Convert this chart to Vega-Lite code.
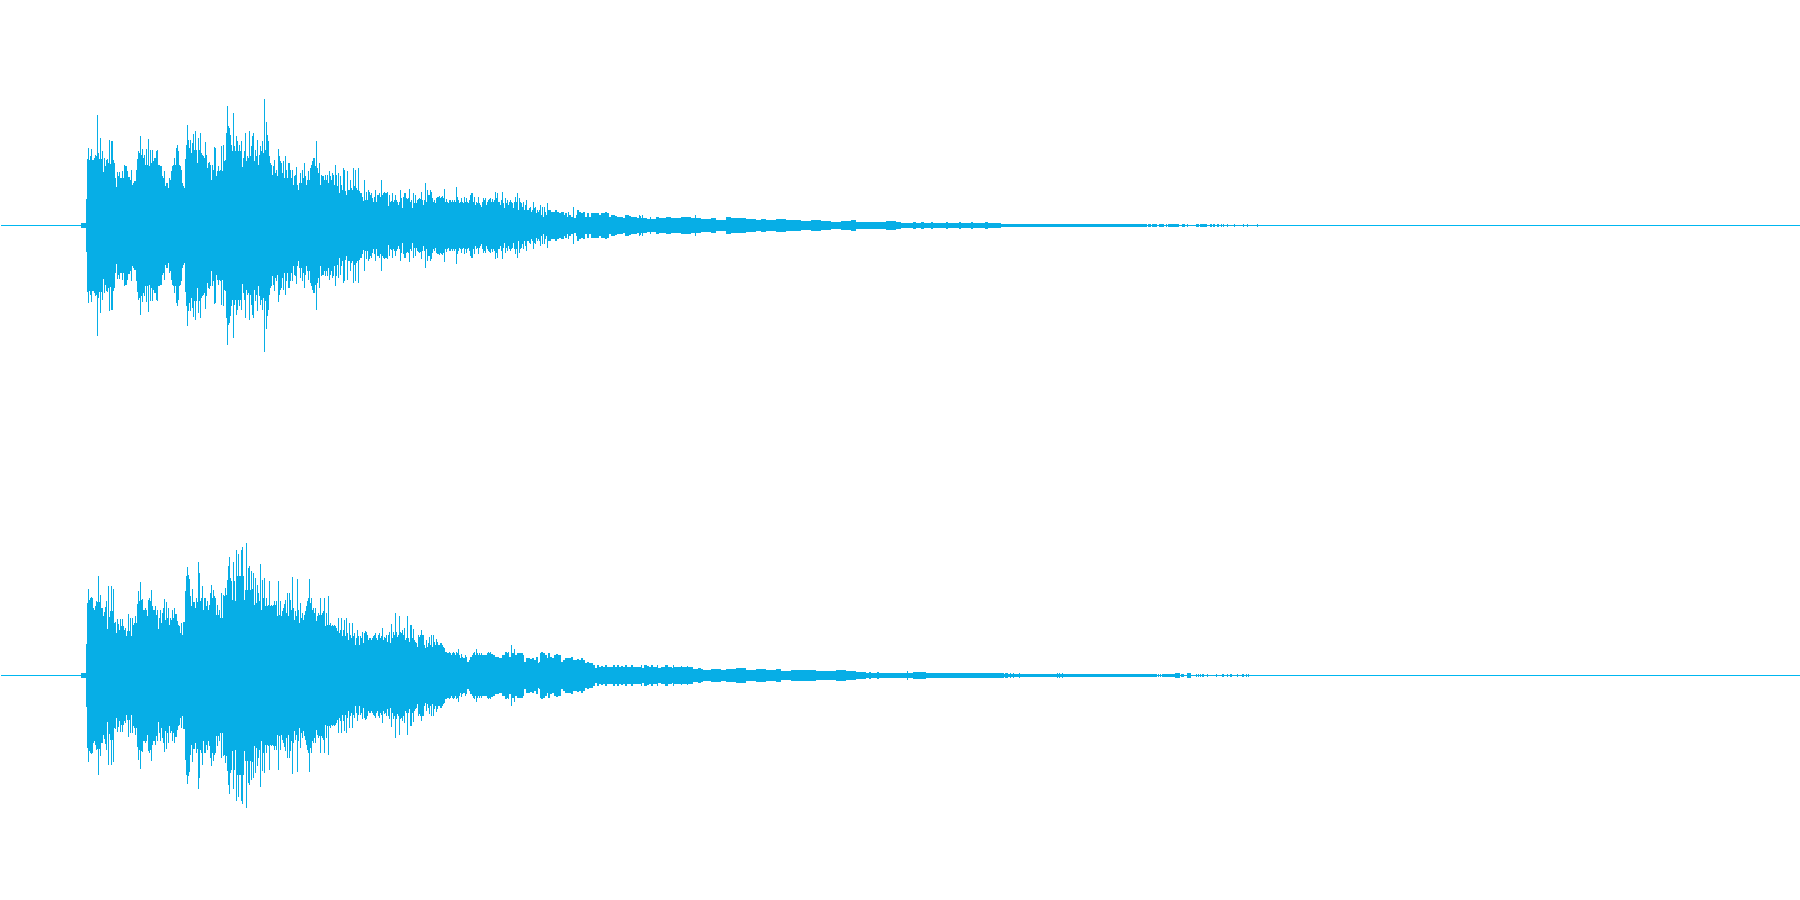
{"padding":0,"background":"white","config":{"view":{"stroke":null},"concat":{"spacing":0}},
"datasets":{"ch1":[{"x":80,"t":2,"b":-3},{"x":85,"t":26,"b":-27},{"x":86,"t":66,"b":-67},{"x":87,"t":77,"b":-78},{"x":88,"t":65,"b":-66},{"x":89,"t":69,"b":-70},{"x":90,"t":76,"b":-77},{"x":91,"t":65,"b":-66},{"x":92,"t":65,"b":-66},{"x":93,"t":67,"b":-68},{"x":94,"t":70,"b":-71},{"x":95,"t":69,"b":-70},{"x":96,"t":110,"b":-111},{"x":97,"t":72,"b":-73},{"x":98,"t":66,"b":-67},{"x":99,"t":87,"b":-88},{"x":100,"t":66,"b":-67},{"x":101,"t":74,"b":-75},{"x":102,"t":53,"b":-54},{"x":103,"t":67,"b":-68},{"x":104,"t":59,"b":-60},{"x":105,"t":65,"b":-66},{"x":106,"t":66,"b":-67},{"x":107,"t":62,"b":-63},{"x":108,"t":85,"b":-86},{"x":109,"t":61,"b":-62},{"x":110,"t":84,"b":-85},{"x":111,"t":84,"b":-85},{"x":112,"t":65,"b":-66},{"x":113,"t":62,"b":-63},{"x":114,"t":47,"b":-48},{"x":115,"t":38,"b":-39},{"x":116,"t":53,"b":-54},{"x":117,"t":49,"b":-50},{"x":118,"t":53,"b":-54},{"x":119,"t":47,"b":-48},{"x":120,"t":47,"b":-48},{"x":121,"t":54,"b":-55},{"x":122,"t":47,"b":-48},{"x":123,"t":60,"b":-61},{"x":124,"t":59,"b":-60},{"x":125,"t":59,"b":-60},{"x":126,"t":54,"b":-55},{"x":127,"t":48,"b":-49},{"x":128,"t":48,"b":-49},{"x":129,"t":45,"b":-46},{"x":130,"t":55,"b":-56},{"x":131,"t":40,"b":-41},{"x":132,"t":42,"b":-43},{"x":133,"t":44,"b":-45},{"x":134,"t":44,"b":-45},{"x":135,"t":55,"b":-56},{"x":136,"t":66,"b":-67},{"x":137,"t":74,"b":-75},{"x":138,"t":72,"b":-73},{"x":139,"t":89,"b":-90},{"x":140,"t":70,"b":-71},{"x":141,"t":76,"b":-77},{"x":142,"t":67,"b":-68},{"x":143,"t":70,"b":-71},{"x":144,"t":60,"b":-61},{"x":145,"t":76,"b":-77},{"x":146,"t":60,"b":-61},{"x":147,"t":86,"b":-87},{"x":148,"t":59,"b":-60},{"x":149,"t":75,"b":-76},{"x":150,"t":62,"b":-63},{"x":151,"t":75,"b":-76},{"x":152,"t":64,"b":-65},{"x":153,"t":67,"b":-68},{"x":154,"t":67,"b":-68},{"x":155,"t":74,"b":-75},{"x":156,"t":75,"b":-76},{"x":157,"t":60,"b":-61},{"x":158,"t":60,"b":-61},{"x":159,"t":59,"b":-60},{"x":160,"t":59,"b":-60},{"x":161,"t":49,"b":-50},{"x":162,"t":47,"b":-48},{"x":163,"t":54,"b":-55},{"x":164,"t":39,"b":-40},{"x":165,"t":42,"b":-43},{"x":166,"t":42,"b":-43},{"x":167,"t":37,"b":-38},{"x":168,"t":47,"b":-48},{"x":169,"t":45,"b":-46},{"x":170,"t":54,"b":-55},{"x":171,"t":59,"b":-60},{"x":172,"t":60,"b":-61},{"x":173,"t":67,"b":-68},{"x":174,"t":60,"b":-61},{"x":175,"t":77,"b":-78},{"x":176,"t":80,"b":-81},{"x":177,"t":74,"b":-75},{"x":178,"t":60,"b":-61},{"x":179,"t":59,"b":-60},{"x":180,"t":55,"b":-56},{"x":181,"t":42,"b":-43},{"x":182,"t":39,"b":-40},{"x":183,"t":37,"b":-38},{"x":184,"t":66,"b":-67},{"x":185,"t":80,"b":-81},{"x":186,"t":100,"b":-101},{"x":187,"t":85,"b":-86},{"x":188,"t":77,"b":-78},{"x":189,"t":85,"b":-86},{"x":190,"t":72,"b":-73},{"x":191,"t":82,"b":-83},{"x":192,"t":91,"b":-92},{"x":193,"t":75,"b":-76},{"x":194,"t":94,"b":-95},{"x":195,"t":75,"b":-76},{"x":196,"t":62,"b":-63},{"x":197,"t":87,"b":-88},{"x":198,"t":75,"b":-76},{"x":199,"t":92,"b":-93},{"x":200,"t":72,"b":-73},{"x":201,"t":70,"b":-71},{"x":202,"t":69,"b":-70},{"x":203,"t":67,"b":-68},{"x":204,"t":83,"b":-84},{"x":205,"t":70,"b":-71},{"x":206,"t":57,"b":-58},{"x":207,"t":62,"b":-63},{"x":208,"t":63,"b":-64},{"x":209,"t":60,"b":-61},{"x":210,"t":45,"b":-46},{"x":211,"t":60,"b":-61},{"x":212,"t":55,"b":-56},{"x":213,"t":78,"b":-79},{"x":214,"t":77,"b":-78},{"x":215,"t":49,"b":-50},{"x":216,"t":54,"b":-55},{"x":217,"t":59,"b":-60},{"x":218,"t":54,"b":-55},{"x":219,"t":55,"b":-56},{"x":220,"t":79,"b":-80},{"x":221,"t":54,"b":-55},{"x":222,"t":80,"b":-81},{"x":223,"t":64,"b":-65},{"x":224,"t":65,"b":-66},{"x":225,"t":92,"b":-93},{"x":226,"t":119,"b":-120},{"x":227,"t":99,"b":-100},{"x":228,"t":97,"b":-98},{"x":229,"t":90,"b":-91},{"x":230,"t":80,"b":-81},{"x":231,"t":74,"b":-75},{"x":232,"t":112,"b":-113},{"x":233,"t":79,"b":-80},{"x":234,"t":74,"b":-75},{"x":235,"t":89,"b":-90},{"x":236,"t":84,"b":-85},{"x":237,"t":74,"b":-75},{"x":238,"t":80,"b":-81},{"x":239,"t":74,"b":-75},{"x":240,"t":84,"b":-85},{"x":241,"t":58,"b":-59},{"x":242,"t":67,"b":-68},{"x":243,"t":74,"b":-75},{"x":244,"t":92,"b":-93},{"x":245,"t":64,"b":-65},{"x":246,"t":69,"b":-70},{"x":247,"t":67,"b":-68},{"x":248,"t":94,"b":-95},{"x":249,"t":69,"b":-70},{"x":250,"t":79,"b":-80},{"x":251,"t":89,"b":-90},{"x":252,"t":92,"b":-93},{"x":253,"t":64,"b":-65},{"x":254,"t":75,"b":-76},{"x":255,"t":69,"b":-70},{"x":256,"t":85,"b":-86},{"x":257,"t":60,"b":-61},{"x":258,"t":70,"b":-71},{"x":259,"t":79,"b":-80},{"x":260,"t":74,"b":-75},{"x":261,"t":84,"b":-85},{"x":262,"t":72,"b":-73},{"x":263,"t":126,"b":-127},{"x":264,"t":75,"b":-76},{"x":265,"t":103,"b":-104},{"x":266,"t":90,"b":-91},{"x":267,"t":84,"b":-85},{"x":268,"t":69,"b":-70},{"x":269,"t":62,"b":-63},{"x":270,"t":60,"b":-61},{"x":271,"t":50,"b":-51},{"x":272,"t":59,"b":-60},{"x":273,"t":65,"b":-66},{"x":274,"t":52,"b":-53},{"x":275,"t":55,"b":-56},{"x":276,"t":49,"b":-50},{"x":277,"t":76,"b":-77},{"x":278,"t":69,"b":-70},{"x":279,"t":64,"b":-65},{"x":280,"t":62,"b":-63},{"x":281,"t":52,"b":-53},{"x":282,"t":64,"b":-65},{"x":283,"t":47,"b":-48},{"x":284,"t":69,"b":-70},{"x":285,"t":55,"b":-56},{"x":286,"t":47,"b":-48},{"x":287,"t":62,"b":-63},{"x":288,"t":62,"b":-63},{"x":289,"t":55,"b":-56},{"x":290,"t":47,"b":-48},{"x":291,"t":55,"b":-56},{"x":292,"t":40,"b":-41},{"x":293,"t":49,"b":-50},{"x":294,"t":50,"b":-51},{"x":295,"t":58,"b":-59},{"x":296,"t":40,"b":-41},{"x":297,"t":35,"b":-36},{"x":298,"t":42,"b":-43},{"x":299,"t":52,"b":-53},{"x":300,"t":42,"b":-43},{"x":301,"t":55,"b":-56},{"x":302,"t":47,"b":-48},{"x":303,"t":62,"b":-63},{"x":304,"t":49,"b":-50},{"x":305,"t":40,"b":-41},{"x":306,"t":45,"b":-46},{"x":307,"t":54,"b":-55},{"x":308,"t":45,"b":-46},{"x":309,"t":57,"b":-58},{"x":310,"t":60,"b":-61},{"x":311,"t":64,"b":-65},{"x":312,"t":67,"b":-68},{"x":313,"t":67,"b":-68},{"x":314,"t":59,"b":-60},{"x":315,"t":84,"b":-85},{"x":316,"t":57,"b":-58},{"x":317,"t":52,"b":-53},{"x":318,"t":62,"b":-63},{"x":319,"t":40,"b":-41},{"x":320,"t":50,"b":-51},{"x":321,"t":49,"b":-50},{"x":322,"t":49,"b":-50},{"x":323,"t":45,"b":-46},{"x":324,"t":50,"b":-51},{"x":325,"t":45,"b":-46},{"x":326,"t":50,"b":-51},{"x":327,"t":42,"b":-43},{"x":328,"t":54,"b":-55},{"x":329,"t":49,"b":-50},{"x":330,"t":45,"b":-46},{"x":331,"t":52,"b":-53},{"x":332,"t":50,"b":-51},{"x":333,"t":40,"b":-41},{"x":334,"t":60,"b":-61},{"x":335,"t":50,"b":-51},{"x":336,"t":39,"b":-40},{"x":337,"t":52,"b":-53},{"x":338,"t":32,"b":-33},{"x":339,"t":49,"b":-50},{"x":340,"t":40,"b":-41},{"x":341,"t":35,"b":-36},{"x":342,"t":57,"b":-58},{"x":343,"t":55,"b":-56},{"x":344,"t":34,"b":-35},{"x":345,"t":30,"b":-31},{"x":346,"t":54,"b":-55},{"x":347,"t":35,"b":-36},{"x":348,"t":35,"b":-36},{"x":349,"t":45,"b":-46},{"x":350,"t":37,"b":-38},{"x":351,"t":35,"b":-36},{"x":352,"t":57,"b":-58},{"x":353,"t":39,"b":-40},{"x":354,"t":55,"b":-56},{"x":355,"t":37,"b":-38},{"x":356,"t":35,"b":-36},{"x":357,"t":57,"b":-58},{"x":358,"t":34,"b":-35},{"x":359,"t":32,"b":-33},{"x":360,"t":32,"b":-33},{"x":361,"t":28,"b":-29},{"x":362,"t":24,"b":-25},{"x":363,"t":45,"b":-46},{"x":364,"t":25,"b":-26},{"x":365,"t":33,"b":-34},{"x":366,"t":25,"b":-26},{"x":367,"t":35,"b":-36},{"x":368,"t":33,"b":-34},{"x":369,"t":30,"b":-31},{"x":370,"t":32,"b":-33},{"x":371,"t":27,"b":-28},{"x":372,"t":23,"b":-24},{"x":373,"t":28,"b":-29},{"x":374,"t":35,"b":-36},{"x":375,"t":23,"b":-24},{"x":376,"t":30,"b":-31},{"x":377,"t":30,"b":-31},{"x":378,"t":32,"b":-33},{"x":379,"t":28,"b":-29},{"x":380,"t":45,"b":-46},{"x":381,"t":30,"b":-31},{"x":382,"t":32,"b":-33},{"x":383,"t":33,"b":-34},{"x":384,"t":32,"b":-33},{"x":385,"t":32,"b":-33},{"x":386,"t":33,"b":-34},{"x":387,"t":19,"b":-20},{"x":388,"t":30,"b":-31},{"x":389,"t":23,"b":-24},{"x":390,"t":24,"b":-25},{"x":391,"t":32,"b":-33},{"x":392,"t":23,"b":-24},{"x":393,"t":25,"b":-26},{"x":394,"t":30,"b":-31},{"x":395,"t":25,"b":-26},{"x":396,"t":23,"b":-24},{"x":397,"t":20,"b":-21},{"x":398,"t":23,"b":-24},{"x":399,"t":35,"b":-36},{"x":400,"t":27,"b":-28},{"x":401,"t":17,"b":-18},{"x":402,"t":28,"b":-29},{"x":403,"t":32,"b":-33},{"x":404,"t":32,"b":-33},{"x":405,"t":27,"b":-28},{"x":406,"t":26,"b":-27},{"x":407,"t":27,"b":-28},{"x":408,"t":36,"b":-37},{"x":409,"t":23,"b":-24},{"x":410,"t":25,"b":-26},{"x":411,"t":17,"b":-18},{"x":412,"t":32,"b":-33},{"x":413,"t":22,"b":-23},{"x":414,"t":30,"b":-31},{"x":415,"t":22,"b":-23},{"x":416,"t":25,"b":-26},{"x":417,"t":26,"b":-27},{"x":418,"t":27,"b":-28},{"x":419,"t":26,"b":-27},{"x":420,"t":33,"b":-34},{"x":421,"t":25,"b":-26},{"x":422,"t":20,"b":-21},{"x":423,"t":25,"b":-26},{"x":424,"t":42,"b":-43},{"x":425,"t":23,"b":-24},{"x":426,"t":35,"b":-36},{"x":427,"t":30,"b":-31},{"x":428,"t":30,"b":-31},{"x":429,"t":35,"b":-36},{"x":430,"t":33,"b":-34},{"x":431,"t":27,"b":-28},{"x":432,"t":23,"b":-24},{"x":433,"t":25,"b":-26},{"x":434,"t":22,"b":-23},{"x":435,"t":27,"b":-28},{"x":436,"t":28,"b":-29},{"x":437,"t":28,"b":-29},{"x":438,"t":29,"b":-30},{"x":439,"t":27,"b":-28},{"x":440,"t":28,"b":-29},{"x":441,"t":29,"b":-30},{"x":442,"t":27,"b":-28},{"x":443,"t":36,"b":-37},{"x":444,"t":23,"b":-24},{"x":445,"t":26,"b":-27},{"x":446,"t":23,"b":-24},{"x":447,"t":22,"b":-23},{"x":448,"t":25,"b":-26},{"x":449,"t":25,"b":-26},{"x":450,"t":23,"b":-24},{"x":451,"t":25,"b":-26},{"x":452,"t":23,"b":-24},{"x":453,"t":25,"b":-26},{"x":454,"t":23,"b":-24},{"x":455,"t":38,"b":-39},{"x":456,"t":28,"b":-29},{"x":457,"t":25,"b":-26},{"x":458,"t":22,"b":-23},{"x":459,"t":23,"b":-24},{"x":460,"t":27,"b":-28},{"x":461,"t":23,"b":-24},{"x":462,"t":22,"b":-23},{"x":463,"t":28,"b":-29},{"x":464,"t":23,"b":-24},{"x":465,"t":27,"b":-28},{"x":466,"t":23,"b":-24},{"x":467,"t":22,"b":-23},{"x":468,"t":25,"b":-26},{"x":469,"t":30,"b":-31},{"x":470,"t":32,"b":-33},{"x":471,"t":32,"b":-33},{"x":472,"t":23,"b":-24},{"x":473,"t":28,"b":-29},{"x":474,"t":20,"b":-21},{"x":475,"t":23,"b":-24},{"x":476,"t":22,"b":-23},{"x":477,"t":28,"b":-29},{"x":478,"t":22,"b":-23},{"x":479,"t":20,"b":-21},{"x":480,"t":18,"b":-19},{"x":481,"t":23,"b":-24},{"x":482,"t":27,"b":-28},{"x":483,"t":25,"b":-26},{"x":484,"t":27,"b":-28},{"x":485,"t":20,"b":-21},{"x":486,"t":23,"b":-24},{"x":487,"t":25,"b":-26},{"x":488,"t":26,"b":-27},{"x":489,"t":27,"b":-28},{"x":490,"t":23,"b":-24},{"x":491,"t":26,"b":-27},{"x":492,"t":23,"b":-24},{"x":493,"t":25,"b":-26},{"x":494,"t":33,"b":-34},{"x":495,"t":27,"b":-28},{"x":496,"t":32,"b":-33},{"x":497,"t":23,"b":-24},{"x":498,"t":23,"b":-24},{"x":499,"t":20,"b":-21},{"x":500,"t":25,"b":-26},{"x":501,"t":33,"b":-34},{"x":502,"t":22,"b":-23},{"x":503,"t":17,"b":-18},{"x":504,"t":27,"b":-28},{"x":505,"t":22,"b":-23},{"x":506,"t":25,"b":-26},{"x":507,"t":20,"b":-21},{"x":508,"t":23,"b":-24},{"x":509,"t":25,"b":-26},{"x":510,"t":23,"b":-24},{"x":511,"t":22,"b":-23},{"x":512,"t":17,"b":-18},{"x":513,"t":23,"b":-24},{"x":514,"t":28,"b":-29},{"x":515,"t":23,"b":-24},{"x":516,"t":32,"b":-33},{"x":517,"t":15,"b":-16},{"x":518,"t":27,"b":-28},{"x":519,"t":23,"b":-24},{"x":520,"t":22,"b":-23},{"x":521,"t":18,"b":-19},{"x":522,"t":23,"b":-24},{"x":523,"t":15,"b":-16},{"x":524,"t":20,"b":-21},{"x":525,"t":25,"b":-26},{"x":526,"t":15,"b":-16},{"x":527,"t":15,"b":-16},{"x":528,"t":17,"b":-18},{"x":529,"t":18,"b":-19},{"x":530,"t":13,"b":-14},{"x":531,"t":15,"b":-16},{"x":532,"t":23,"b":-24},{"x":533,"t":17,"b":-18},{"x":534,"t":18,"b":-19},{"x":535,"t":12,"b":-13},{"x":536,"t":15,"b":-16},{"x":537,"t":13,"b":-14},{"x":538,"t":15,"b":-16},{"x":539,"t":20,"b":-21},{"x":540,"t":10,"b":-11},{"x":541,"t":18,"b":-19},{"x":542,"t":8,"b":-9},{"x":543,"t":18,"b":-19},{"x":544,"t":13,"b":-14},{"x":545,"t":10,"b":-11},{"x":546,"t":22,"b":-23},{"x":547,"t":15,"b":-16},{"x":550,"t":13,"b":-14},{"x":554,"t":15,"b":-16},{"x":556,"t":13,"b":-14},{"x":558,"t":12,"b":-13},{"x":560,"t":13,"b":-14},{"x":563,"t":10,"b":-11},{"x":564,"t":12,"b":-13},{"x":566,"t":8,"b":-9},{"x":567,"t":13,"b":-14},{"x":568,"t":10,"b":-11},{"x":570,"t":8,"b":-9},{"x":572,"t":18,"b":-19},{"x":573,"t":7,"b":-8},{"x":575,"t":10,"b":-11},{"x":576,"t":15,"b":-16},{"x":578,"t":13,"b":-14},{"x":580,"t":12,"b":-13},{"x":582,"t":13,"b":-14},{"x":584,"t":8,"b":-9},{"x":586,"t":12,"b":-13},{"x":588,"t":8,"b":-9},{"x":590,"t":12,"b":-13},{"x":598,"t":10,"b":-11},{"x":600,"t":12,"b":-13},{"x":604,"t":13,"b":-14},{"x":606,"t":12,"b":-13},{"x":608,"t":8,"b":-9},{"x":610,"t":10,"b":-11},{"x":614,"t":9,"b":-10},{"x":616,"t":8,"b":-9},{"x":622,"t":7,"b":-8},{"x":624,"t":10,"b":-11},{"x":628,"t":9,"b":-10},{"x":630,"t":8,"b":-9},{"x":636,"t":7,"b":-8},{"x":638,"t":10,"b":-11},{"x":639,"t":9,"b":-10},{"x":640,"t":7,"b":-8},{"x":641,"t":10,"b":-11},{"x":642,"t":7,"b":-8},{"x":646,"t":6,"b":-7},{"x":649,"t":8,"b":-9},{"x":650,"t":6,"b":-7},{"x":655,"t":8,"b":-9},{"x":658,"t":7,"b":-8},{"x":665,"t":8,"b":-9},{"x":670,"t":7,"b":-8},{"x":680,"t":8,"b":-9},{"x":690,"t":7,"b":-8},{"x":694,"t":10,"b":-11},{"x":695,"t":7,"b":-8},{"x":700,"t":6,"b":-7},{"x":710,"t":7,"b":-8},{"x":715,"t":5,"b":-6},{"x":725,"t":8,"b":-9},{"x":730,"t":7,"b":-8},{"x":745,"t":6,"b":-7},{"x":755,"t":5,"b":-6},{"x":760,"t":6,"b":-7},{"x":765,"t":5,"b":-6},{"x":775,"t":6,"b":-7},{"x":785,"t":5,"b":-6},{"x":800,"t":4,"b":-5},{"x":810,"t":5,"b":-6},{"x":820,"t":4,"b":-5},{"x":830,"t":3,"b":-4},{"x":840,"t":4,"b":-5},{"x":850,"t":5,"b":-6},{"x":855,"t":3,"b":-4},{"x":885,"t":4,"b":-5},{"x":895,"t":3,"b":-4},{"x":900,"t":2,"b":-3},{"x":912,"t":3,"b":-4},{"x":915,"t":2,"b":-3},{"x":920,"t":3,"b":-4},{"x":923,"t":2,"b":-3},{"x":930,"t":3,"b":-4},{"x":932,"t":2,"b":-3},{"x":945,"t":3,"b":-4},{"x":947,"t":2,"b":-3},{"x":958,"t":3,"b":-4},{"x":960,"t":2,"b":-3},{"x":970,"t":3,"b":-4},{"x":972,"t":2,"b":-3},{"x":984,"t":3,"b":-4},{"x":987,"t":2,"b":-3},{"x":1000,"t":1,"b":-2},{"x":1146,"t":0,"b":-1},{"x":1147,"t":1,"b":-2},{"x":1150,"t":0,"b":-1},{"x":1151,"t":1,"b":-2},{"x":1156,"t":0,"b":-1},{"x":1158,"t":1,"b":-2},{"x":1163,"t":0,"b":-1},{"x":1165,"t":1,"b":-2},{"x":1166,"t":0,"b":-1},{"x":1167,"t":1,"b":-2},{"x":1178,"t":0,"b":-1},{"x":1181,"t":1,"b":-2},{"x":1184,"t":0,"b":-1},{"x":1186,"t":1,"b":-2},{"x":1187,"t":0,"b":-1},{"x":1195,"t":1,"b":-2},{"x":1198,"t":0,"b":-1},{"x":1199,"t":1,"b":-2},{"x":1206,"t":0,"b":-1},{"x":1209,"t":1,"b":-2},{"x":1211,"t":0,"b":-1},{"x":1212,"t":1,"b":-2},{"x":1214,"t":0,"b":-1},{"x":1216,"t":1,"b":-2},{"x":1218,"t":0,"b":-1},{"x":1220,"t":1,"b":-2},{"x":1221,"t":0,"b":-1},{"x":1222,"t":1,"b":-2},{"x":1223,"t":0,"b":-1},{"x":1226,"t":1,"b":-2},{"x":1227,"t":0,"b":-1},{"x":1233,"t":1,"b":-2},{"x":1234,"t":0,"b":-1},{"x":1242,"t":1,"b":-2},{"x":1243,"t":0,"b":-1},{"x":1246,"t":1,"b":-2},{"x":1247,"t":0,"b":-1},{"x":1256,"t":1,"b":-2},{"x":1257,"t":0,"b":-1}],
"ch2":[{"x":80,"t":2,"b":-3},{"x":85,"t":31,"b":-32},{"x":86,"t":72,"b":-73},{"x":87,"t":86,"b":-87},{"x":88,"t":75,"b":-76},{"x":89,"t":77,"b":-78},{"x":90,"t":78,"b":-79},{"x":91,"t":77,"b":-78},{"x":92,"t":67,"b":-68},{"x":93,"t":65,"b":-66},{"x":94,"t":69,"b":-70},{"x":95,"t":74,"b":-75},{"x":96,"t":73,"b":-74},{"x":97,"t":99,"b":-100},{"x":98,"t":73,"b":-74},{"x":99,"t":80,"b":-81},{"x":100,"t":67,"b":-68},{"x":101,"t":67,"b":-68},{"x":102,"t":59,"b":-60},{"x":103,"t":63,"b":-64},{"x":104,"t":68,"b":-69},{"x":105,"t":74,"b":-75},{"x":106,"t":46,"b":-47},{"x":107,"t":89,"b":-90},{"x":108,"t":58,"b":-59},{"x":109,"t":64,"b":-65},{"x":110,"t":89,"b":-90},{"x":111,"t":64,"b":-65},{"x":112,"t":86,"b":-87},{"x":113,"t":52,"b":-53},{"x":114,"t":53,"b":-54},{"x":115,"t":42,"b":-43},{"x":116,"t":56,"b":-57},{"x":117,"t":51,"b":-52},{"x":118,"t":45,"b":-46},{"x":119,"t":56,"b":-57},{"x":120,"t":49,"b":-50},{"x":121,"t":56,"b":-57},{"x":122,"t":49,"b":-50},{"x":123,"t":45,"b":-46},{"x":124,"t":47,"b":-48},{"x":125,"t":39,"b":-40},{"x":126,"t":44,"b":-45},{"x":127,"t":61,"b":-62},{"x":128,"t":44,"b":-45},{"x":129,"t":57,"b":-58},{"x":130,"t":39,"b":-40},{"x":131,"t":57,"b":-58},{"x":132,"t":50,"b":-51},{"x":133,"t":52,"b":-53},{"x":134,"t":59,"b":-60},{"x":135,"t":52,"b":-53},{"x":136,"t":71,"b":-72},{"x":137,"t":84,"b":-85},{"x":138,"t":74,"b":-75},{"x":139,"t":93,"b":-94},{"x":140,"t":75,"b":-76},{"x":141,"t":76,"b":-77},{"x":142,"t":65,"b":-66},{"x":143,"t":65,"b":-66},{"x":144,"t":67,"b":-68},{"x":145,"t":65,"b":-66},{"x":146,"t":59,"b":-60},{"x":147,"t":75,"b":-76},{"x":148,"t":77,"b":-78},{"x":149,"t":74,"b":-75},{"x":150,"t":85,"b":-86},{"x":151,"t":69,"b":-70},{"x":152,"t":65,"b":-66},{"x":153,"t":65,"b":-66},{"x":154,"t":69,"b":-70},{"x":155,"t":60,"b":-61},{"x":156,"t":65,"b":-66},{"x":157,"t":46,"b":-47},{"x":158,"t":57,"b":-58},{"x":159,"t":65,"b":-66},{"x":160,"t":52,"b":-53},{"x":161,"t":62,"b":-63},{"x":162,"t":67,"b":-68},{"x":163,"t":76,"b":-77},{"x":164,"t":55,"b":-56},{"x":165,"t":73,"b":-74},{"x":166,"t":57,"b":-58},{"x":167,"t":67,"b":-68},{"x":168,"t":50,"b":-51},{"x":169,"t":57,"b":-58},{"x":170,"t":55,"b":-56},{"x":171,"t":65,"b":-66},{"x":172,"t":57,"b":-58},{"x":173,"t":67,"b":-68},{"x":174,"t":61,"b":-62},{"x":175,"t":61,"b":-62},{"x":176,"t":54,"b":-55},{"x":177,"t":50,"b":-51},{"x":178,"t":49,"b":-50},{"x":179,"t":42,"b":-43},{"x":180,"t":52,"b":-53},{"x":181,"t":40,"b":-41},{"x":182,"t":53,"b":-54},{"x":183,"t":53,"b":-54},{"x":184,"t":84,"b":-85},{"x":185,"t":99,"b":-100},{"x":186,"t":108,"b":-109},{"x":187,"t":100,"b":-101},{"x":188,"t":96,"b":-97},{"x":189,"t":79,"b":-80},{"x":190,"t":69,"b":-70},{"x":191,"t":86,"b":-87},{"x":192,"t":73,"b":-74},{"x":193,"t":73,"b":-74},{"x":194,"t":67,"b":-68},{"x":195,"t":77,"b":-78},{"x":196,"t":73,"b":-74},{"x":197,"t":113,"b":-114},{"x":198,"t":102,"b":-103},{"x":199,"t":74,"b":-75},{"x":200,"t":77,"b":-78},{"x":201,"t":89,"b":-90},{"x":202,"t":65,"b":-66},{"x":203,"t":77,"b":-78},{"x":204,"t":77,"b":-78},{"x":205,"t":69,"b":-70},{"x":206,"t":74,"b":-75},{"x":207,"t":65,"b":-66},{"x":208,"t":70,"b":-71},{"x":209,"t":82,"b":-83},{"x":210,"t":90,"b":-91},{"x":211,"t":77,"b":-78},{"x":212,"t":85,"b":-86},{"x":213,"t":79,"b":-80},{"x":214,"t":77,"b":-78},{"x":215,"t":60,"b":-61},{"x":216,"t":70,"b":-71},{"x":217,"t":60,"b":-61},{"x":218,"t":65,"b":-66},{"x":219,"t":57,"b":-58},{"x":220,"t":82,"b":-83},{"x":221,"t":57,"b":-58},{"x":222,"t":80,"b":-81},{"x":223,"t":79,"b":-80},{"x":224,"t":87,"b":-88},{"x":225,"t":80,"b":-81},{"x":226,"t":95,"b":-96},{"x":227,"t":109,"b":-110},{"x":228,"t":118,"b":-119},{"x":229,"t":97,"b":-98},{"x":230,"t":94,"b":-95},{"x":231,"t":75,"b":-76},{"x":232,"t":113,"b":-114},{"x":233,"t":94,"b":-95},{"x":234,"t":74,"b":-75},{"x":235,"t":125,"b":-126},{"x":236,"t":99,"b":-100},{"x":237,"t":121,"b":-122},{"x":238,"t":99,"b":-100},{"x":239,"t":99,"b":-100},{"x":240,"t":125,"b":-126},{"x":241,"t":128,"b":-129},{"x":242,"t":99,"b":-100},{"x":243,"t":75,"b":-76},{"x":244,"t":85,"b":-86},{"x":245,"t":132,"b":-133},{"x":246,"t":85,"b":-86},{"x":247,"t":107,"b":-108},{"x":248,"t":109,"b":-110},{"x":249,"t":85,"b":-86},{"x":250,"t":104,"b":-105},{"x":251,"t":86,"b":-87},{"x":252,"t":102,"b":-103},{"x":253,"t":70,"b":-71},{"x":254,"t":97,"b":-98},{"x":255,"t":72,"b":-73},{"x":256,"t":90,"b":-91},{"x":257,"t":82,"b":-83},{"x":258,"t":74,"b":-75},{"x":259,"t":111,"b":-112},{"x":260,"t":65,"b":-66},{"x":261,"t":95,"b":-96},{"x":262,"t":77,"b":-78},{"x":263,"t":97,"b":-98},{"x":264,"t":69,"b":-70},{"x":265,"t":77,"b":-78},{"x":266,"t":69,"b":-70},{"x":267,"t":70,"b":-71},{"x":268,"t":94,"b":-95},{"x":269,"t":69,"b":-70},{"x":270,"t":70,"b":-71},{"x":271,"t":69,"b":-70},{"x":272,"t":70,"b":-71},{"x":273,"t":74,"b":-75},{"x":274,"t":70,"b":-71},{"x":275,"t":74,"b":-75},{"x":276,"t":59,"b":-60},{"x":277,"t":94,"b":-95},{"x":278,"t":60,"b":-61},{"x":279,"t":74,"b":-75},{"x":280,"t":59,"b":-60},{"x":281,"t":64,"b":-65},{"x":282,"t":67,"b":-68},{"x":283,"t":71,"b":-72},{"x":284,"t":75,"b":-76},{"x":285,"t":62,"b":-63},{"x":286,"t":82,"b":-83},{"x":287,"t":59,"b":-60},{"x":288,"t":82,"b":-83},{"x":289,"t":75,"b":-76},{"x":290,"t":65,"b":-66},{"x":291,"t":98,"b":-99},{"x":292,"t":67,"b":-68},{"x":293,"t":55,"b":-56},{"x":294,"t":64,"b":-65},{"x":295,"t":59,"b":-60},{"x":296,"t":96,"b":-97},{"x":297,"t":65,"b":-66},{"x":298,"t":52,"b":-53},{"x":299,"t":72,"b":-73},{"x":300,"t":57,"b":-58},{"x":301,"t":62,"b":-63},{"x":302,"t":55,"b":-56},{"x":303,"t":60,"b":-61},{"x":304,"t":64,"b":-65},{"x":305,"t":69,"b":-70},{"x":306,"t":74,"b":-75},{"x":307,"t":77,"b":-78},{"x":308,"t":96,"b":-97},{"x":309,"t":72,"b":-73},{"x":310,"t":77,"b":-78},{"x":311,"t":65,"b":-66},{"x":312,"t":67,"b":-68},{"x":313,"t":62,"b":-63},{"x":314,"t":67,"b":-68},{"x":315,"t":54,"b":-55},{"x":316,"t":59,"b":-60},{"x":317,"t":62,"b":-63},{"x":318,"t":60,"b":-61},{"x":319,"t":77,"b":-78},{"x":320,"t":60,"b":-61},{"x":321,"t":62,"b":-63},{"x":322,"t":64,"b":-65},{"x":323,"t":77,"b":-78},{"x":324,"t":49,"b":-50},{"x":325,"t":62,"b":-63},{"x":326,"t":50,"b":-51},{"x":327,"t":79,"b":-80},{"x":328,"t":50,"b":-51},{"x":329,"t":52,"b":-53},{"x":330,"t":49,"b":-50},{"x":331,"t":50,"b":-51},{"x":332,"t":49,"b":-50},{"x":333,"t":50,"b":-51},{"x":334,"t":49,"b":-50},{"x":335,"t":47,"b":-48},{"x":336,"t":44,"b":-45},{"x":337,"t":57,"b":-58},{"x":338,"t":42,"b":-43},{"x":339,"t":45,"b":-46},{"x":340,"t":57,"b":-58},{"x":341,"t":39,"b":-40},{"x":342,"t":45,"b":-46},{"x":343,"t":55,"b":-56},{"x":344,"t":39,"b":-40},{"x":345,"t":57,"b":-58},{"x":346,"t":42,"b":-43},{"x":347,"t":35,"b":-36},{"x":348,"t":52,"b":-53},{"x":349,"t":40,"b":-41},{"x":350,"t":37,"b":-38},{"x":351,"t":52,"b":-53},{"x":352,"t":39,"b":-40},{"x":353,"t":42,"b":-43},{"x":354,"t":30,"b":-31},{"x":355,"t":37,"b":-38},{"x":356,"t":45,"b":-46},{"x":357,"t":39,"b":-40},{"x":358,"t":30,"b":-31},{"x":359,"t":39,"b":-40},{"x":360,"t":37,"b":-38},{"x":361,"t":43,"b":-44},{"x":362,"t":32,"b":-33},{"x":363,"t":42,"b":-43},{"x":364,"t":44,"b":-45},{"x":365,"t":43,"b":-44},{"x":366,"t":40,"b":-41},{"x":367,"t":35,"b":-36},{"x":368,"t":37,"b":-38},{"x":369,"t":37,"b":-38},{"x":370,"t":35,"b":-36},{"x":371,"t":37,"b":-38},{"x":372,"t":39,"b":-40},{"x":373,"t":40,"b":-41},{"x":374,"t":42,"b":-43},{"x":375,"t":37,"b":-38},{"x":376,"t":35,"b":-36},{"x":377,"t":40,"b":-41},{"x":378,"t":42,"b":-43},{"x":379,"t":37,"b":-38},{"x":380,"t":39,"b":-40},{"x":381,"t":47,"b":-48},{"x":382,"t":35,"b":-36},{"x":383,"t":38,"b":-39},{"x":384,"t":37,"b":-38},{"x":385,"t":40,"b":-41},{"x":386,"t":33,"b":-34},{"x":387,"t":40,"b":-41},{"x":388,"t":43,"b":-44},{"x":389,"t":32,"b":-33},{"x":390,"t":51,"b":-52},{"x":391,"t":37,"b":-38},{"x":392,"t":43,"b":-44},{"x":393,"t":40,"b":-41},{"x":394,"t":62,"b":-63},{"x":395,"t":43,"b":-44},{"x":396,"t":38,"b":-39},{"x":397,"t":40,"b":-41},{"x":398,"t":59,"b":-60},{"x":399,"t":43,"b":-44},{"x":400,"t":42,"b":-43},{"x":401,"t":45,"b":-46},{"x":402,"t":40,"b":-41},{"x":403,"t":47,"b":-48},{"x":404,"t":35,"b":-36},{"x":405,"t":37,"b":-38},{"x":406,"t":59,"b":-60},{"x":407,"t":37,"b":-38},{"x":408,"t":33,"b":-34},{"x":409,"t":50,"b":-51},{"x":410,"t":50,"b":-51},{"x":411,"t":37,"b":-38},{"x":412,"t":46,"b":-47},{"x":413,"t":35,"b":-36},{"x":414,"t":33,"b":-34},{"x":415,"t":32,"b":-33},{"x":416,"t":28,"b":-29},{"x":417,"t":40,"b":-41},{"x":418,"t":38,"b":-39},{"x":419,"t":40,"b":-41},{"x":420,"t":45,"b":-46},{"x":421,"t":40,"b":-41},{"x":422,"t":40,"b":-41},{"x":423,"t":30,"b":-31},{"x":424,"t":27,"b":-28},{"x":425,"t":35,"b":-36},{"x":426,"t":28,"b":-29},{"x":427,"t":32,"b":-33},{"x":428,"t":38,"b":-39},{"x":429,"t":30,"b":-31},{"x":430,"t":40,"b":-41},{"x":431,"t":28,"b":-29},{"x":432,"t":40,"b":-41},{"x":433,"t":33,"b":-34},{"x":434,"t":30,"b":-31},{"x":435,"t":36,"b":-37},{"x":436,"t":33,"b":-34},{"x":437,"t":30,"b":-31},{"x":438,"t":30,"b":-31},{"x":439,"t":32,"b":-33},{"x":440,"t":32,"b":-33},{"x":441,"t":30,"b":-31},{"x":442,"t":28,"b":-29},{"x":443,"t":27,"b":-28},{"x":444,"t":23,"b":-24},{"x":445,"t":23,"b":-24},{"x":446,"t":22,"b":-23},{"x":447,"t":22,"b":-23},{"x":448,"t":23,"b":-24},{"x":449,"t":22,"b":-23},{"x":450,"t":20,"b":-21},{"x":451,"t":22,"b":-23},{"x":452,"t":23,"b":-24},{"x":453,"t":22,"b":-23},{"x":454,"t":20,"b":-21},{"x":455,"t":23,"b":-24},{"x":456,"t":22,"b":-23},{"x":457,"t":26,"b":-27},{"x":458,"t":20,"b":-21},{"x":459,"t":17,"b":-18},{"x":460,"t":21,"b":-22},{"x":461,"t":18,"b":-19},{"x":462,"t":17,"b":-18},{"x":463,"t":17,"b":-18},{"x":464,"t":20,"b":-21},{"x":465,"t":18,"b":-19},{"x":466,"t":13,"b":-14},{"x":467,"t":13,"b":-14},{"x":468,"t":15,"b":-16},{"x":469,"t":18,"b":-19},{"x":470,"t":18,"b":-19},{"x":471,"t":20,"b":-21},{"x":472,"t":22,"b":-23},{"x":473,"t":23,"b":-24},{"x":474,"t":20,"b":-21},{"x":475,"t":26,"b":-27},{"x":476,"t":22,"b":-23},{"x":477,"t":20,"b":-21},{"x":478,"t":22,"b":-23},{"x":479,"t":20,"b":-21},{"x":480,"t":22,"b":-23},{"x":481,"t":20,"b":-21},{"x":486,"t":22,"b":-23},{"x":487,"t":23,"b":-24},{"x":488,"t":22,"b":-23},{"x":489,"t":23,"b":-24},{"x":490,"t":21,"b":-22},{"x":492,"t":20,"b":-21},{"x":494,"t":18,"b":-19},{"x":498,"t":17,"b":-18},{"x":501,"t":20,"b":-21},{"x":504,"t":23,"b":-24},{"x":506,"t":22,"b":-23},{"x":507,"t":23,"b":-24},{"x":508,"t":18,"b":-19},{"x":510,"t":30,"b":-31},{"x":511,"t":22,"b":-23},{"x":513,"t":26,"b":-27},{"x":514,"t":20,"b":-21},{"x":516,"t":22,"b":-23},{"x":522,"t":20,"b":-21},{"x":523,"t":13,"b":-14},{"x":525,"t":17,"b":-18},{"x":529,"t":16,"b":-17},{"x":531,"t":17,"b":-18},{"x":533,"t":15,"b":-16},{"x":535,"t":18,"b":-19},{"x":537,"t":12,"b":-13},{"x":538,"t":13,"b":-14},{"x":539,"t":22,"b":-23},{"x":540,"t":23,"b":-24},{"x":542,"t":22,"b":-23},{"x":544,"t":20,"b":-21},{"x":546,"t":17,"b":-18},{"x":547,"t":22,"b":-23},{"x":549,"t":18,"b":-19},{"x":551,"t":17,"b":-18},{"x":553,"t":20,"b":-21},{"x":555,"t":21,"b":-22},{"x":557,"t":20,"b":-21},{"x":560,"t":13,"b":-14},{"x":562,"t":15,"b":-16},{"x":564,"t":17,"b":-18},{"x":570,"t":18,"b":-19},{"x":572,"t":15,"b":-16},{"x":576,"t":16,"b":-17},{"x":578,"t":15,"b":-16},{"x":580,"t":17,"b":-18},{"x":582,"t":15,"b":-16},{"x":584,"t":12,"b":-13},{"x":586,"t":13,"b":-14},{"x":588,"t":12,"b":-13},{"x":592,"t":10,"b":-11},{"x":594,"t":7,"b":-8},{"x":596,"t":10,"b":-11},{"x":598,"t":8,"b":-9},{"x":600,"t":9,"b":-10},{"x":602,"t":8,"b":-9},{"x":604,"t":10,"b":-11},{"x":606,"t":8,"b":-9},{"x":612,"t":10,"b":-11},{"x":614,"t":8,"b":-9},{"x":616,"t":10,"b":-11},{"x":618,"t":8,"b":-9},{"x":620,"t":9,"b":-10},{"x":622,"t":8,"b":-9},{"x":624,"t":10,"b":-11},{"x":626,"t":8,"b":-9},{"x":630,"t":10,"b":-11},{"x":632,"t":8,"b":-9},{"x":640,"t":10,"b":-11},{"x":641,"t":7,"b":-8},{"x":643,"t":10,"b":-11},{"x":646,"t":9,"b":-10},{"x":648,"t":8,"b":-9},{"x":650,"t":10,"b":-11},{"x":652,"t":8,"b":-9},{"x":656,"t":10,"b":-11},{"x":657,"t":7,"b":-8},{"x":660,"t":8,"b":-9},{"x":664,"t":10,"b":-11},{"x":667,"t":8,"b":-9},{"x":671,"t":7,"b":-8},{"x":672,"t":10,"b":-11},{"x":673,"t":8,"b":-9},{"x":680,"t":9,"b":-10},{"x":681,"t":8,"b":-9},{"x":686,"t":9,"b":-10},{"x":687,"t":8,"b":-9},{"x":692,"t":6,"b":-7},{"x":697,"t":7,"b":-8},{"x":700,"t":6,"b":-7},{"x":702,"t":5,"b":-6},{"x":710,"t":6,"b":-7},{"x":720,"t":5,"b":-6},{"x":725,"t":6,"b":-7},{"x":735,"t":7,"b":-8},{"x":745,"t":5,"b":-6},{"x":755,"t":6,"b":-7},{"x":765,"t":5,"b":-6},{"x":775,"t":6,"b":-7},{"x":780,"t":4,"b":-5},{"x":790,"t":5,"b":-6},{"x":815,"t":4,"b":-5},{"x":835,"t":5,"b":-6},{"x":845,"t":4,"b":-5},{"x":855,"t":3,"b":-4},{"x":865,"t":2,"b":-3},{"x":868,"t":3,"b":-4},{"x":870,"t":2,"b":-3},{"x":876,"t":3,"b":-4},{"x":878,"t":2,"b":-3},{"x":906,"t":4,"b":-5},{"x":907,"t":2,"b":-3},{"x":912,"t":3,"b":-4},{"x":925,"t":2,"b":-3},{"x":1002,"t":2,"b":-3},{"x":1003,"t":1,"b":-2},{"x":1004,"t":2,"b":-3},{"x":1007,"t":1,"b":-2},{"x":1009,"t":2,"b":-3},{"x":1010,"t":1,"b":-2},{"x":1012,"t":2,"b":-3},{"x":1013,"t":1,"b":-2},{"x":1018,"t":2,"b":-3},{"x":1019,"t":1,"b":-2},{"x":1056,"t":2,"b":-3},{"x":1057,"t":1,"b":-2},{"x":1058,"t":2,"b":-3},{"x":1059,"t":1,"b":-2},{"x":1061,"t":2,"b":-3},{"x":1062,"t":1,"b":-2},{"x":1156,"t":0,"b":-1},{"x":1157,"t":1,"b":-2},{"x":1158,"t":0,"b":-1},{"x":1159,"t":1,"b":-2},{"x":1160,"t":0,"b":-1},{"x":1161,"t":1,"b":-2},{"x":1174,"t":2,"b":-3},{"x":1179,"t":0,"b":-1},{"x":1180,"t":1,"b":-2},{"x":1183,"t":0,"b":-1},{"x":1186,"t":2,"b":-3},{"x":1190,"t":0,"b":-1},{"x":1195,"t":1,"b":-2},{"x":1196,"t":0,"b":-1},{"x":1197,"t":1,"b":-2},{"x":1198,"t":0,"b":-1},{"x":1199,"t":1,"b":-2},{"x":1200,"t":0,"b":-1},{"x":1201,"t":1,"b":-2},{"x":1203,"t":0,"b":-1},{"x":1206,"t":1,"b":-2},{"x":1207,"t":0,"b":-1},{"x":1215,"t":1,"b":-2},{"x":1216,"t":0,"b":-1},{"x":1221,"t":1,"b":-2},{"x":1223,"t":0,"b":-1},{"x":1226,"t":1,"b":-2},{"x":1227,"t":0,"b":-1},{"x":1229,"t":1,"b":-2},{"x":1231,"t":0,"b":-1},{"x":1236,"t":1,"b":-2},{"x":1237,"t":0,"b":-1},{"x":1241,"t":1,"b":-2},{"x":1243,"t":0,"b":-1},{"x":1245,"t":1,"b":-2},{"x":1246,"t":0,"b":-1},{"x":1247,"t":1,"b":-2},{"x":1248,"t":0,"b":-1}]},
"vconcat":[
{"width":1800,"height":450,"data":{"name":"ch1"},"layer":[
{"mark":{"type":"rule","color":"#00B7F0","strokeWidth":1,"yOffset":0.5},"encoding":{"y":{"datum":0,"type":"quantitative","scale":{"domain":[-225,225],"nice":false,"zero":false},"axis":null}}},
{"mark":{"type":"area","interpolate":"step-after","color":"#07AEE6","opacity":1},"encoding":{"x":{"field":"x","type":"quantitative","scale":{"domain":[0,1800],"nice":false,"zero":false},"axis":null},"y":{"field":"t","type":"quantitative","scale":{"domain":[-225,225],"nice":false,"zero":false},"axis":null},"y2":{"field":"b"}}}
]},
{"width":1800,"height":450,"data":{"name":"ch2"},"layer":[
{"mark":{"type":"rule","color":"#00B7F0","strokeWidth":1,"yOffset":0.5},"encoding":{"y":{"datum":0,"type":"quantitative","scale":{"domain":[-225,225],"nice":false,"zero":false},"axis":null}}},
{"mark":{"type":"area","interpolate":"step-after","color":"#07AEE6","opacity":1},"encoding":{"x":{"field":"x","type":"quantitative","scale":{"domain":[0,1800],"nice":false,"zero":false},"axis":null},"y":{"field":"t","type":"quantitative","scale":{"domain":[-225,225],"nice":false,"zero":false},"axis":null},"y2":{"field":"b"}}}
]}
]}
